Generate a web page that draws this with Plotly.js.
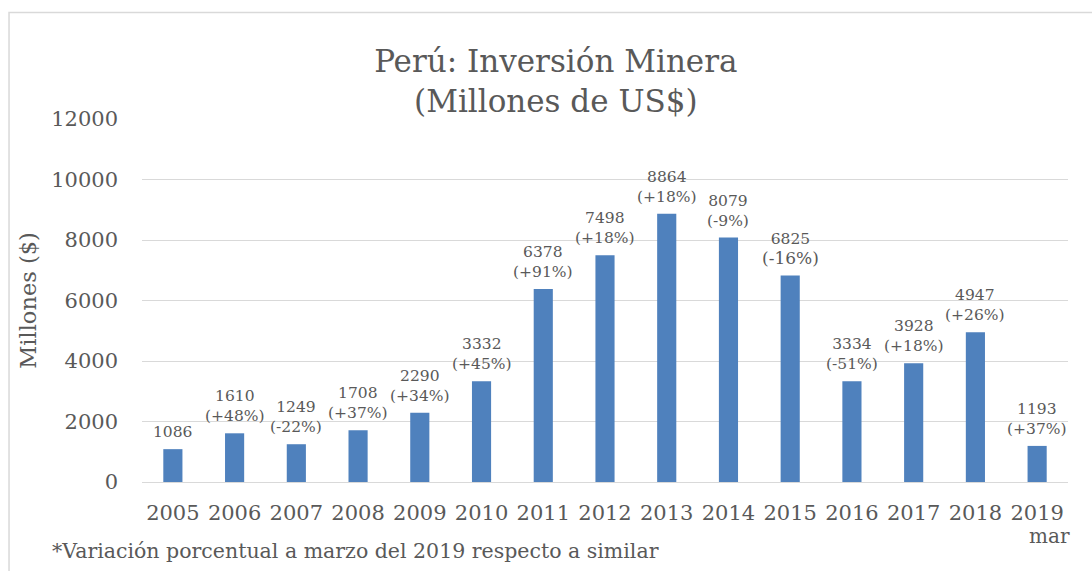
<!DOCTYPE html>
<html>
<head>
<meta charset="utf-8">
<script src="https://cdn.plot.ly/plotly-3.0.1.min.js"></script>
<style>html,body{margin:0;padding:0;background:#fff;}#chart{width:1092px;height:571px;}</style>
</head>
<body>
<div id="chart"></div>
<script>
var years = ['2005','2006','2007','2008','2009','2010','2011','2012','2013','2014','2015','2016','2017','2018','2019'];
var values = [1086,1610,1249,1708,2290,3332,6378,7498,8864,8079,6825,3334,3928,4947,1193];
var changes = ['', '+48%', '-22%', '+37%', '+34%', '+45%', '+91%', '+18%', '+18%', '-9%', '-16%', '-51%', '+18%', '+26%', '+37%'];
var yTicks = [0,2000,4000,6000,8000,10000,12000];

var FONT = 'DejaVu Serif';
var TXT = '#595959';

var annotations = years.map(function(y, i){
  var t = String(values[i]);
  if (changes[i]) {
    t += '<br>' + (i === 10 ? '<span style="font-size:17px">(' + changes[i] + ')</span>' : '(' + changes[i] + ')');
  }
  return {x: i, y: values[i], xref: 'x', yref: 'y', text: t, showarrow: false,
    yanchor: 'bottom', yshift: 6, font: {family: FONT, size: 15.5, color: TXT}};
});
annotations.push({x: years.length - 1, y: -0.15, xref: 'x', yref: 'paper', text: 'mar', showarrow: false,
  xshift: 12, yanchor: 'middle', font: {family: FONT, size: 20, color: TXT}});
annotations.push({x: -0.0994, y: -0.19, xref: 'paper', yref: 'paper', text: '*Variación porcentual a marzo del 2019 respecto a similar',
  showarrow: false, xanchor: 'left', yanchor: 'middle', font: {family: FONT, size: 20.5, color: TXT}});

var data = [{
  type: 'bar', x: years, y: values,
  marker: {color: '#4F81BD'},
  hoverinfo: 'x+y'
}];

var layout = {
  width: 1092, height: 571,
  margin: {l: 142, r: 24, t: 119, b: 89},
  paper_bgcolor: '#ffffff', plot_bgcolor: '#ffffff',
  bargap: 0.69,
  showlegend: false,
  title: {text: 'Perú: Inversión Minera<br>(Millones de US$)', x: 0.509, xref: 'container', xanchor: 'center',
    y: 1 - 72/571, yref: 'container', yanchor: 'middle', font: {family: FONT, size: 31, color: TXT}},
  xaxis: {type: 'category', range: [-0.5, years.length - 0.5], showgrid: false, showline: false, zeroline: false, ticks: '',
    ticklabelstandoff: 16, tickfont: {family: FONT, size: 21, color: TXT}},
  yaxis: {range: [0, 12000], tickvals: yTicks, ticktext: yTicks.map(String), showgrid: true, gridcolor: '#D9D9D9', gridwidth: 1,
    zeroline: true, zerolinecolor: '#D9D9D9', zerolinewidth: 1, showline: false, ticks: '',
    ticklabelstandoff: 23, tickfont: {family: FONT, size: 21, color: TXT},
    title: {text: 'Millones ($)', standoff: 8, font: {family: FONT, size: 22.5, color: TXT}}},
  annotations: annotations,
  shapes: [{type: 'rect', xref: 'paper', yref: 'paper', x0: -0.1436, x1: 1.2, y0: -0.5, y1: 1.2934,
    line: {color: '#D9D9D9', width: 1.5}, fillcolor: 'rgba(0,0,0,0)', layer: 'below'}]
};

Plotly.newPlot('chart', data, layout, {displayModeBar: false, staticPlot: true});
</script>
</body>
</html>
